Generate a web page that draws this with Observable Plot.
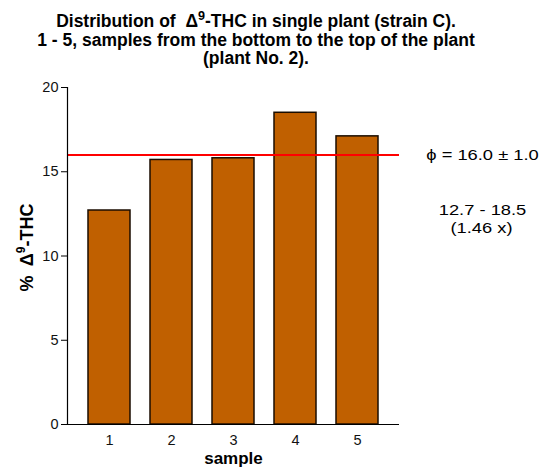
<!DOCTYPE html>
<html>
<head>
<meta charset="utf-8">
<script src="https://cdn.jsdelivr.net/npm/d3@7"></script>
<script src="https://cdn.jsdelivr.net/npm/@observablehq/plot@0.6"></script>
<style>
  html, body { margin: 0; padding: 0; background: #fff; }
  body { width: 547px; height: 475px; overflow: hidden; font-family: "Liberation Sans", Arial, sans-serif; }
  #title {
    box-sizing: border-box; width: 547px; height: 75px;
    padding: 12px 35px 0 0; text-align: center;
    font-weight: bold; font-size: 17.5px; line-height: 18.5px; color: #000;
  }
  #title sup { font-size: 0.72em; line-height: 0; vertical-align: 0.55em; }
  svg { display: block; }
</style>
</head>
<body>
<div id="title">Distribution of&nbsp; &Delta;<sup>9</sup>-THC in single plant (strain C).<br>1 - 5, samples from the bottom to the top of the plant<br>(plant No. 2).</div>
<div id="chart"></div>
<script>
// Δ9-THC content (%) of five samples taken up one plant
const samples = ["1", "2", "3", "4", "5"];
const thc = [12.7, 15.7, 15.8, 18.5, 17.1];
const yTicks = [0, 5, 10, 15, 20];

// summary figures printed beside the chart
const meanThc = 16.0;
const spreadThc = 1.0;
const lowThc = 12.7;
const highThc = 18.5;
const ratioThc = 1.46;

const rows = samples.map((s, i) => ({sample: s, thc: thc[i]}));

const noteStyle = {textAnchor: "middle", fontSize: 15, fill: "#000"};

const chart = Plot.plot({
  width: 547,
  height: 400,
  marginTop: 12,
  marginBottom: 51,
  marginLeft: 67,
  marginRight: 148,
  style: {fontFamily: "Liberation Sans, Arial, sans-serif", color: "#000", background: "#fff"},
  x: {domain: samples, paddingInner: 0.33, paddingOuter: 0.34, label: null},
  y: {domain: [0, 20], label: null},
  marks: [
    Plot.barY(rows, {x: "sample", y: "thc", fill: "#c06000", stroke: "#1a0d00", strokeWidth: 1.5}),
    Plot.ruleY([meanThc], {stroke: "#ff0000", strokeWidth: 2}),
    Plot.frame({anchor: "left", stroke: "#000", strokeWidth: 1.2}),
    Plot.ruleY([0], {stroke: "#000", strokeWidth: 1.2}),
    Plot.axisY({ticks: yTicks, tickSize: 6, tickPadding: 3, fontSize: 14.5, label: null, stroke: "#000", color: "#111"}),
    Plot.axisX({tickSize: 0, tickPadding: 10, fontSize: 14.5, label: null, color: "#111"}),
    Plot.text([`ϕ = ${meanThc.toFixed(1)} ± ${spreadThc.toFixed(1)}`], {
      ...noteStyle, y: [meanThc], frameAnchor: "right", dx: 83, dy: 0, className: "note"
    }),
    Plot.text([`${lowThc.toFixed(1)} - ${highThc.toFixed(1)}`], {
      ...noteStyle, frameAnchor: "top-right", dx: 83, dy: 117, className: "note"
    }),
    Plot.text([`(${ratioThc.toFixed(2)} x)`], {
      ...noteStyle, frameAnchor: "top-right", dx: 82, dy: 134.5, className: "note"
    }),
    Plot.text(["sample"], {frameAnchor: "bottom", dy: 39, fontSize: 17, fontWeight: "bold", fill: "#000"})
  ]
});

document.getElementById("chart").append(chart);

const svg = d3.select(chart);

// the side notes are set in a wide face: stretch their glyphs horizontally
svg.selectAll(".note text").each(function () {
  const w = this.getComputedTextLength();
  this.setAttribute("textLength", (w * 1.22).toFixed(1));
  this.setAttribute("lengthAdjust", "spacingAndGlyphs");
});

// rotated y-axis title with a superscript 9
const ylab = svg.append("text")
  .attr("transform", "translate(32.5,172.5) rotate(-90)")
  .attr("text-anchor", "middle")
  .attr("font-family", "Liberation Sans, Arial, sans-serif")
  .attr("font-size", 18)
  .attr("font-weight", "bold")
  .attr("fill", "#000");
ylab.append("tspan").text("%  Δ");
ylab.append("tspan").attr("font-size", 12).attr("dy", -8).text("9");
ylab.append("tspan").attr("dy", 8).text("-THC");
</script>
</body>
</html>
